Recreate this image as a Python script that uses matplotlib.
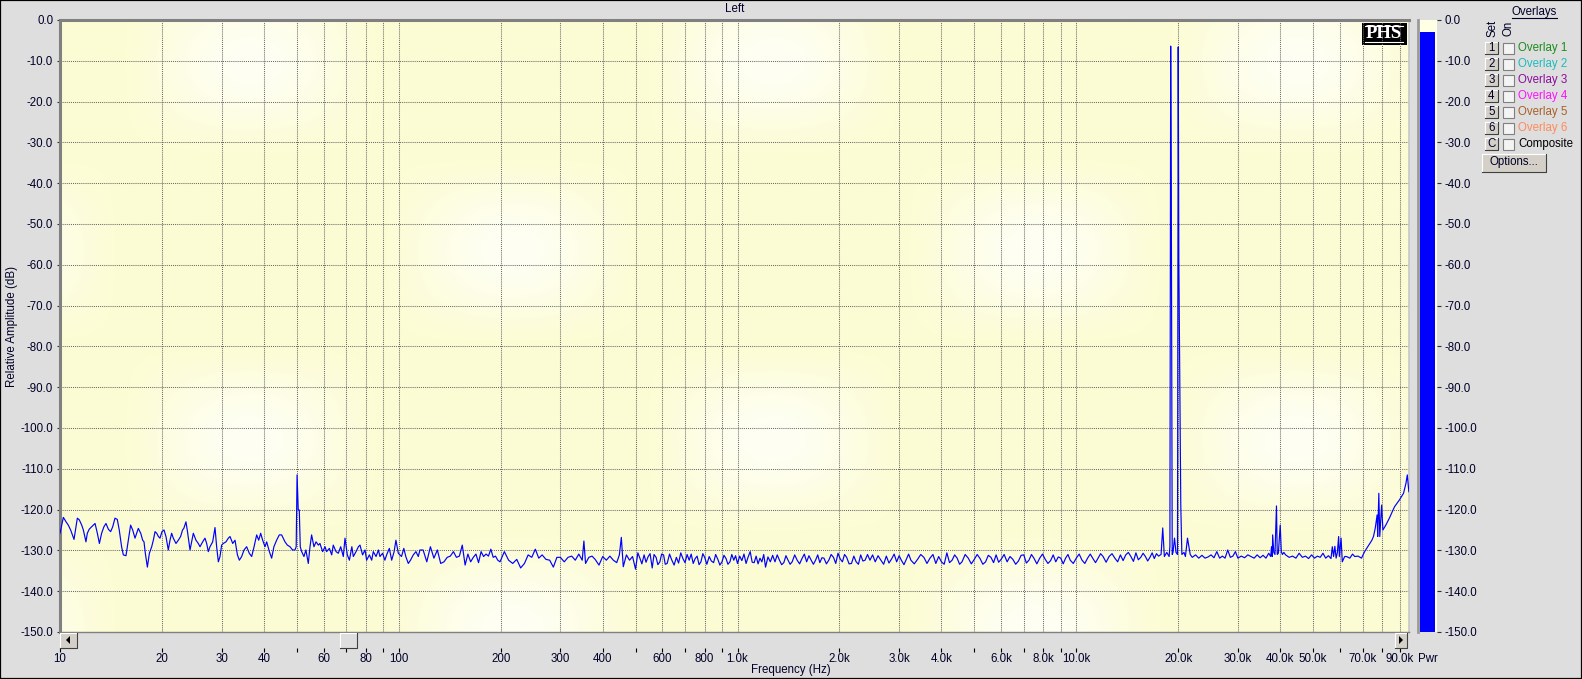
import numpy as np
import matplotlib
matplotlib.use("Agg")
import matplotlib.pyplot as plt
from matplotlib.patches import Rectangle, Polygon
from matplotlib.lines import Line2D
from matplotlib.ticker import FixedLocator, FixedFormatter, NullLocator

# ---------------- data (frequency Hz, level dB) ----------------
seg_10_50 = [(10.0, -125.8), (10.23, -121.9), (10.42, -123.0), (10.58, -123.8), (10.75, -125.0), (11.0, -127.3),
             (11.15, -124.2), (11.25, -122.1), (11.4, -122.5), (11.59, -123.8), (11.72, -125.0), (11.93, -127.9),
             (12.04, -125.8), (12.2, -124.8), (12.4, -124.2), (12.69, -123.4), (12.89, -125.8), (13.07, -128.3),
             (13.27, -125.8), (13.48, -124.2), (13.67, -123.4), (13.89, -124.8), (14.11, -125.4), (14.31, -124.2),
             (14.53, -122.1), (14.76, -122.4), (14.96, -125.0), (15.2, -129.1), (15.38, -131.1), (15.66, -131.3),
             (15.91, -127.5), (16.16, -123.8), (16.39, -125.0), (16.65, -127.0), (16.84, -125.8), (17.03, -124.6),
             (17.31, -125.8), (17.54, -127.5), (17.7, -127.9), (17.86, -130.7), (18.11, -134.1), (18.36, -130.7),
             (18.65, -129.1), (18.86, -127.5), (19.08, -125.4), (19.3, -125.8), (19.52, -126.6), (19.73, -127.0),
             (20.0, -125.4), (20.28, -125.0), (20.55, -126.6), (20.88, -129.9), (21.12, -127.5), (21.36, -125.8),
             (21.6, -127.0), (22.0, -128.3), (22.35, -127.5), (22.7, -126.6), (23.0, -125.0), (23.2, -124.6),
             (23.54, -123.0), (23.75, -125.0), (24.2, -129.9), (24.47, -127.9), (24.75, -125.8), (25.2, -127.5),
             (25.6, -128.3), (25.9, -129.1), (26.37, -127.9), (26.79, -127.0), (27.1, -128.3), (27.4, -130.3),
             (27.72, -129.1), (28.23, -127.9), (28.68, -124.4), (29.0, -129.1), (29.34, -132.8), (29.67, -131.5),
             (30.0, -128.7), (30.35, -128.3), (30.9, -127.9), (31.4, -127.0), (31.76, -126.6), (32.35, -128.3),
             (32.86, -127.5), (33.4, -131.1), (33.84, -132.4), (34.38, -131.5), (34.93, -129.9), (35.56, -129.1),
             (36.2, -130.7), (36.8, -131.5), (37.4, -129.1), (38.07, -126.2), (38.6, -127.5), (39.12, -125.8),
             (39.65, -127.5), (40.29, -129.1), (40.75, -127.9), (41.5, -130.3), (42.15, -131.9), (42.8, -129.1),
             (43.6, -127.5), (44.4, -126.2), (45.11, -126.2), (46.15, -127.9), (46.9, -128.7), (47.74, -129.1),
             (48.6, -129.9), (49.39, -129.9), (49.8, -129.1)]

seg_hum = [(50.1, -111.5), (50.5, -120.1), (50.86, -120.1), (51.2, -129.1)]

seg_51_116 = [(51.68, -130.3), (52.5, -131.5), (53.2, -129.9), (54.07, -133.2), (54.7, -129.1), (55.3, -126.2),
              (56.2, -129.1), (57.0, -127.9), (57.9, -128.7), (58.53, -128.3), (59.6, -130.3), (60.6, -129.1),
              (61.24, -130.3), (62.4, -129.5), (63.4, -131.1), (64.07, -128.7), (65.3, -130.3), (66.3, -130.7),
              (67.4, -129.1), (68.6, -131.5), (69.39, -127.0), (70.5, -131.1), (71.5, -132.4), (72.7, -129.1),
              (73.43, -131.5), (74.8, -130.3), (76.0, -129.1), (76.84, -128.7), (78.2, -131.1), (79.5, -129.9),
              (80.39, -132.4), (81.9, -131.1), (83.2, -132.4), (84.1, -130.3), (85.7, -131.5), (87.1, -129.9),
              (88.0, -131.5), (89.6, -130.7), (91.0, -132.4), (92.08, -131.1), (93.8, -129.5), (95.3, -132.4),
              (96.9, -130.3), (98.1, -127.5), (99.7, -130.7), (101.9, -131.5), (103.5, -129.5), (104.9, -131.5),
              (106.7, -133.2), (108.3, -132.4), (110.4, -131.1), (112.4, -130.3), (114.2, -131.5), (115.5, -129.9)]

seg_118_200 = [(118, -129.9), (121, -132.8), (124, -129.1), (127, -131.9), (130, -129.9), (133, -133.2),
               (136, -132.8), (139, -131.7), (142, -131.4), (145, -130.3), (148, -131.7), (151, -131.4),
               (154, -128.7), (157, -133.6), (160, -130.9), (163, -132.8), (166, -131.7), (169, -130.9),
               (172, -133.0), (175, -130.3), (178, -131.5), (181, -130.9), (184, -131.4), (187, -129.7),
               (190, -131.7), (193, -131.4), (196, -132.4), (199, -132.8)]

seg_200_500 = [(205, -130.3), (211, -132.4), (217, -133.2), (223, -132.2), (229, -134.3), (235, -133.2),
               (241, -131.1), (247, -131.7), (253, -129.7), (259, -131.9), (265, -131.1), (272, -132.2),
               (279, -132.4), (286, -134.1), (293, -131.7), (300, -131.7), (308, -132.8), (316, -131.7),
               (324, -131.4), (332, -132.4), (340, -130.9), (348, -132.4), (352, -127.7), (356, -133.2),
               (364, -131.7), (372, -131.4), (380, -132.2), (390, -133.6), (400, -131.5), (410, -132.4),
               (420, -131.4), (430, -132.4), (440, -133.0), (448, -131.1), (454, -126.8), (460, -134.0),
               (470, -131.1), (480, -132.4), (490, -131.5), (500, -134.6)]

seg_500_2400 = [(508, -130.6), (515, -131.9), (522, -133.3), (530, -131.1), (537, -132.9), (545, -131.5),
                (552, -130.8), (560, -134.3), (567, -131.0), (575, -131.7), (582, -133.5), (590, -132.8),
                (597, -130.9), (605, -131.1), (612, -133.4), (620, -133.2), (630, -130.9), (640, -132.4),
                (650, -133.6), (660, -131.7), (670, -133.1), (680, -130.6), (690, -132.0), (700, -133.0),
                (710, -131.0), (720, -132.4), (730, -130.9), (740, -133.2), (750, -132.0), (760, -131.4),
                (770, -133.5), (780, -132.8), (790, -130.8), (800, -131.7), (812, -133.4), (825, -131.5),
                (837, -132.6), (850, -133.0), (862, -131.0), (875, -132.2), (887, -133.6), (900, -132.8),
                (912, -131.2), (925, -132.0), (937, -133.4), (950, -132.8), (962, -131.0), (975, -132.4),
                (987, -131.3), (1000, -133.2), (1015, -131.4), (1030, -132.5), (1045, -130.9), (1060, -133.2),
                (1075, -131.6), (1090, -130.3), (1105, -132.9), (1120, -133.0), (1135, -131.4), (1150, -133.3),
                (1165, -131.9), (1180, -132.8), (1195, -131.0), (1210, -134.1), (1230, -131.6), (1250, -132.8),
                (1270, -131.2), (1290, -132.8), (1310, -131.1), (1330, -132.4), (1350, -133.5), (1370, -133.0),
                (1390, -131.3), (1410, -132.4), (1430, -133.4), (1450, -132.8), (1475, -131.1), (1500, -132.4),
                (1525, -133.3), (1550, -132.0), (1575, -130.9), (1600, -132.8), (1625, -131.3), (1650, -132.4),
                (1675, -133.4), (1700, -132.4), (1725, -131.1), (1750, -133.0), (1775, -131.8), (1800, -131.9),
                (1830, -133.3), (1860, -132.4), (1890, -131.0), (1920, -131.7), (1950, -133.2), (1980, -130.7),
                (2010, -132.1), (2040, -132.8), (2070, -131.0), (2100, -131.7), (2135, -133.3), (2170, -133.2),
                (2205, -131.4), (2240, -132.8), (2275, -133.4), (2310, -131.1), (2345, -132.6), (2380, -132.4)]

seg_2400_17800 = [(2420, -131.0), (2460, -132.4), (2505, -131.1), (2550, -132.8), (2600, -131.3), (2650, -132.4),
                  (2700, -133.4), (2750, -131.4), (2800, -133.1), (2850, -132.1), (2900, -130.9), (2950, -132.8),
                  (3000, -131.3), (3050, -132.5), (3100, -133.5), (3150, -132.2), (3200, -130.9), (3250, -132.4),
                  (3325, -133.3), (3400, -132.2), (3475, -131.0), (3550, -131.7), (3625, -133.2), (3700, -131.9),
                  (3775, -131.0), (3850, -133.2), (3925, -131.5), (4000, -132.8), (4075, -133.4), (4150, -130.6),
                  (4225, -133.0), (4300, -132.4), (4375, -131.1), (4450, -131.9), (4525, -133.4), (4600, -132.8),
                  (4700, -131.0), (4800, -131.9), (4900, -133.3), (5000, -132.2), (5100, -131.0), (5200, -132.0),
                  (5300, -133.4), (5400, -132.8), (5500, -131.2), (5600, -131.7), (5700, -133.0), (5800, -131.1),
                  (5900, -132.9), (6000, -132.2), (6125, -131.0), (6250, -132.8), (6375, -131.5), (6500, -132.2),
                  (6625, -133.4), (6750, -132.6), (6875, -131.2), (7000, -131.1), (7125, -133.1), (7250, -132.4),
                  (7375, -131.0), (7500, -131.9), (7650, -133.3), (7800, -131.9), (7950, -130.9), (8100, -132.2),
                  (8250, -133.2), (8400, -132.5), (8550, -131.1), (8700, -132.8), (8850, -131.6), (9000, -131.9),
                  (9150, -133.3), (9300, -131.9), (9450, -131.0), (9600, -132.4), (9800, -133.2), (10000, -131.9),
                  (10200, -130.9), (10400, -132.4), (10600, -133.2), (10800, -131.9), (11000, -130.9), (11200, -132.0),
                  (11400, -133.0), (11600, -131.9), (11800, -130.8), (12000, -131.5), (12250, -132.9), (12500, -131.5),
                  (12750, -130.8), (13000, -131.9), (13250, -132.8), (13500, -131.1), (13750, -132.5), (14000, -131.1),
                  (14250, -130.5), (14500, -131.5), (14750, -132.7), (15000, -130.6), (15250, -132.3), (15500, -131.7),
                  (15750, -130.7), (16000, -131.5), (16250, -132.6), (16500, -131.7), (16750, -130.6), (17000, -132.0),
                  (17250, -130.8), (17500, -131.4), (17800, -131.0)]

seg_tones = [(18000, -124.5), (18200, -131.5), (18500, -130.5), (18800, -131.5), (18900, -129.0),
             (19000, -6.4), (19080, -42.5), (19200, -131.0), (19300, -130.5), (19500, -127.0), (19700, -130.5),
             (19900, -131.0), (20000, -6.6), (20080, -58.3), (20350, -118.9), (20500, -131.0), (20800, -130.5),
             (21000, -131.5), (21300, -127.0), (21700, -131.0)]

seg_22k_37k = [(22000, -131.7), (22500, -131.1), (23000, -131.9), (23500, -131.2), (24000, -131.9), (24500, -131.6),
               (25000, -131.1), (25500, -131.8), (26000, -130.3), (26500, -131.9), (27000, -131.4), (27500, -131.9),
               (28000, -129.9), (28500, -131.7), (29000, -131.4), (29500, -130.3), (30000, -131.9), (30700, -131.4),
               (31400, -131.8), (32100, -131.1), (32800, -131.5), (33500, -131.9), (34200, -131.1), (34900, -131.8),
               (35600, -131.2), (36300, -131.9), (37000, -130.7), (37500, -131.5)]

seg_40k = [(37700, -129.1), (37900, -131.5), (38000, -126.2), (38300, -130.5), (38600, -131.0), (39000, -119.1),
           (39200, -131.0), (39500, -130.7), (40000, -123.8), (40300, -130.3), (40600, -131.0), (41000, -130.5)]

seg_41k_57k = [(41500, -131.1), (42500, -131.7), (43500, -131.4), (44500, -131.9), (45500, -130.7), (46500, -131.7),
               (47500, -131.4), (48500, -132.0), (49500, -131.1), (50500, -131.9), (51500, -131.4), (52500, -131.7),
               (53500, -130.7), (54500, -131.9), (55500, -131.3), (56500, -132.0)]

seg_top = [(57000, -129.1), (57500, -131.5), (58000, -129.0), (58500, -131.9), (59000, -130.5), (59500, -126.6),
           (59800, -131.5), (60500, -127.0), (61000, -132.8), (62000, -131.5), (62800, -131.5), (64200, -131.9),
           (65400, -130.9), (66400, -131.5), (67900, -131.4), (69500, -131.9), (71000, -130.3), (72800, -128.9),
           (74600, -127.5), (75400, -126.6), (76300, -124.6), (77300, -121.3), (77600, -126.6), (78200, -116.0),
           (78700, -126.6), (79700, -118.9), (80400, -125.0), (82000, -123.8), (84000, -122.1), (87000, -119.3),
           (90000, -117.6), (92500, -116.0), (94000, -113.6), (94900, -111.5), (95900, -115.6)]

x_tick_values = [10, 20, 30, 40, 50, 60, 70, 80, 90,
                 100, 200, 300, 400, 500, 600, 700, 800, 900,
                 1000, 2000, 3000, 4000, 5000, 6000, 7000, 8000, 9000,
                 10000, 20000, 30000, 40000, 50000, 60000, 70000, 80000, 90000]
x_tick_labels = ["10", "20", "30", "40", "", "60", "", "80", "",
                 "100", "200", "300", "400", "", "600", "", "800", "",
                 "1.0k", "2.0k", "3.0k", "4.0k", "", "6.0k", "", "8.0k", "",
                 "10.0k", "20.0k", "30.0k", "40.0k", "50.0k", "", "70.0k", "", "90.0k"]
y_tick_values = [0, -10, -20, -30, -40, -50, -60, -70, -80, -90, -100, -110, -120, -130, -140, -150]
y_tick_labels = ["0.0", "-10.0", "-20.0", "-30.0", "-40.0", "-50.0", "-60.0", "-70.0", "-80.0", "-90.0",
                 "-100.0", "-110.0", "-120.0", "-130.0", "-140.0", "-150.0"]
meter_level = -2.9

overlay_sets = ["1", "2", "3", "4", "5", "6", "C"]
overlay_names = ["Overlay 1", "Overlay 2", "Overlay 3", "Overlay 4", "Overlay 5", "Overlay 6", "Composite"]
overlay_colors = ["#1c8c1c", "#1cbcbc", "#8a0c9c", "#ff10ff", "#a8602a", "#ff8a5c", "#000000"]

# ---------------- figure ----------------
W, H = 1582, 679
DPI = 100
FONT = "Liberation Sans"
FS = 8.3
TXT = "#000028"
BG = "#dedede"

plt.rcParams['font.family'] = [FONT, 'DejaVu Sans']

fig = plt.figure(figsize=(W / DPI, H / DPI), dpi=DPI, facecolor=BG)


def fx(x):
    return x / W


def fy(y):
    return 1 - y / H


def frect(x0, y0, x1, y1, **kw):
    r = Rectangle((fx(x0), fy(y1)), fx(x1) - fx(x0), fy(y0) - fy(y1), transform=fig.transFigure, **kw)
    fig.add_artist(r)
    return r


def fline(xs, ys, **kw):
    fig.add_artist(Line2D([fx(v) for v in xs], [fy(v) for v in ys], transform=fig.transFigure, **kw))


def button3d(x0, y0, x1, y1, face="#d4d0c8"):
    frect(x0, y0, x1, y1, facecolor=face, edgecolor="none")
    fline([x0, x0, x1], [y1, y0, y0], color="white", lw=0.8)
    fline([x0, x1, x1], [y1, y1, y0], color="#404040", lw=0.8)


ax_left, ax_right, ax_top, ax_bot = 60, 1409, 20, 632
pos = [fx(ax_left), fy(ax_bot), fx(ax_right) - fx(ax_left), fy(ax_top) - fy(ax_bot)]

# background pattern axes (soft yellow/white plaid)
bg_ax = fig.add_axes(pos, zorder=0)
gx = np.linspace(ax_left, ax_right, 400)
gy = np.linspace(ax_top, ax_bot, 200)
GX, GY = np.meshgrid(gx, gy)
u = np.cos(np.pi * (GX - 250) / 262) * np.cos(np.pi * (GY - 60) / 190)
t = np.clip(u, 0, 1) ** 1.3
c_y = np.array([252, 252, 212]) / 255
c_w = np.array([255, 255, 244]) / 255
img = c_y[None, None, :] + t[:, :, None] * (c_w - c_y)[None, None, :]
bg_ax.imshow(img, extent=[0, 1, 0, 1], aspect='auto', interpolation='bilinear')
bg_ax.set_xlim(0, 1)
bg_ax.set_ylim(0, 1)
bg_ax.axis('off')

ax = fig.add_axes(pos, zorder=1)
ax.patch.set_alpha(0)

all_pts = (seg_10_50 + seg_hum + seg_51_116 + seg_118_200 + seg_200_500 + seg_500_2400 + seg_2400_17800
           + seg_tones + seg_22k_37k + seg_40k + seg_41k_57k + seg_top)
freqs = [p[0] for p in all_pts]
levels = [p[1] for p in all_pts]
ax.plot(freqs, levels, color="#0000ff", lw=0.85, zorder=3)

ax.set_xscale('log')
ax.set_xlim(10, 96000)
ax.set_ylim(-150, 0)
ax.xaxis.set_major_locator(FixedLocator(x_tick_values))
ax.xaxis.set_major_formatter(FixedFormatter(x_tick_labels))
ax.xaxis.set_minor_locator(NullLocator())
ax.yaxis.set_major_locator(FixedLocator(y_tick_values))
ax.yaxis.set_major_formatter(FixedFormatter(y_tick_labels))
ax.yaxis.set_minor_locator(NullLocator())
ax.set_axisbelow(True)
ax.grid(True, which='major', color="#6a6a6a", lw=0.75, linestyle=(0, (1, 1)))

ax.spines['bottom'].set_position(('outward', 16 * 0.72))
ax.spines['bottom'].set_visible(False)
ax.spines['left'].set_color("#808080")
ax.spines['left'].set_linewidth(2.2)
ax.spines['top'].set_color("#808080")
ax.spines['top'].set_linewidth(2.2)
ax.spines['right'].set_color("#c8c8c8")
ax.spines['right'].set_linewidth(1.2)
ax.axhline(-150, color="#808080", lw=1.0, clip_on=False, zorder=4)

ax.tick_params(axis='x', which='major', direction='out', length=2.9, width=0.8, color='black',
               pad=0.6, labelsize=FS, labelcolor=TXT)
ax.tick_params(axis='y', which='major', direction='out', length=2.2, width=0.8, color='#303030',
               pad=2.7, labelsize=FS, labelcolor=TXT)

# ---------------- meter ----------------
mx0, mx1 = 1418, 1437
ax_m = fig.add_axes([fx(mx0), fy(ax_bot), fx(mx1) - fx(mx0), fy(ax_top) - fy(ax_bot)], zorder=1)
ax_m.set_facecolor("#ffffe6")
ax_m.set_xlim(0, 1)
ax_m.set_ylim(-150, 0)
ax_m.bar([0.5], [meter_level - (-150)], bottom=-150, width=0.84, color="#0000ff", zorder=2)
ax_m.yaxis.tick_right()
ax_m.yaxis.set_major_locator(FixedLocator(y_tick_values))
ax_m.yaxis.set_major_formatter(FixedFormatter(y_tick_labels))
ax_m.set_xticks([])
ax_m.tick_params(axis='y', direction='out', length=3.0, width=0.8, color='#303030', pad=2.6,
                 labelsize=FS, labelcolor=TXT)
for s in ['top', 'bottom', 'right']:
    ax_m.spines[s].set_visible(False)
ax_m.spines['left'].set_color("#9a9a9a")
ax_m.spines['left'].set_linewidth(2.0)

# ---------------- texts ----------------
fig.text(fx(734.5), fy(9), "Left", ha='center', va='center', fontsize=FS, color=TXT)
fig.text(fx(791), fy(670.5), "Frequency (Hz)", ha='center', va='center', fontsize=FS, color=TXT)
fig.text(fx(12), fy(326), "Relative Amplitude (dB)", ha='center', va='center', rotation=90,
         fontsize=FS, color=TXT)
fig.text(fx(1428), fy(659), "Pwr", ha='center', va='center', fontsize=FS, color=TXT)

# ---------------- scrollbar ----------------
button3d(60, 632.5, 77, 648)
fig.add_artist(Polygon([(fx(66), fy(640)), (fx(70), fy(636)), (fx(70), fy(644))], closed=True,
                       transform=fig.transFigure, facecolor='black', edgecolor='none'))
button3d(1395, 632.5, 1407, 648)
fig.add_artist(Polygon([(fx(1403), fy(640)), (fx(1399), fy(636)), (fx(1399), fy(644))], closed=True,
                       transform=fig.transFigure, facecolor='black', edgecolor='none'))
button3d(340, 632.5, 357, 648, face=BG)

# ---------------- PHS logo ----------------
frect(1362, 23, 1407, 44.5, facecolor='black', edgecolor='none')
fline([1365, 1403], [25.5, 25.5], color='white', lw=0.8)
fline([1365, 1403], [41.5, 41.5], color='white', lw=0.8)
fig.text(fx(1384), fy(33.6), "PHS", ha='center', va='center', fontsize=13.5, fontweight='bold',
         family='Liberation Serif', color='white')

# ---------------- overlays panel ----------------
fig.text(fx(1534.5), fy(12.5), "Overlays", ha='center', va='center', fontsize=FS, color=TXT)
fline([1512, 1557], [18, 18], color=TXT, lw=0.8)
fig.text(fx(1493), fy(28.5), "Set", ha='center', va='center', rotation=90, fontsize=FS, color=TXT)
fig.text(fx(1508), fy(28.5), "On", ha='center', va='center', rotation=90, fontsize=FS, color=TXT)
row_y = [48.3, 64.3, 80.3, 96.3, 112.3, 128.3, 144.3]
for yy, sname, oname, col in zip(row_y, overlay_sets, overlay_names, overlay_colors):
    button3d(1485, yy - 6, 1497.5, yy + 6)
    fig.text(fx(1491.3), fy(yy), sname, ha='center', va='center', fontsize=FS, color=TXT)
    frect(1502.5, yy - 5.5, 1513.5, yy + 5.5, facecolor="#f4f4f4", edgecolor="#808080", lw=0.8)
    fig.text(fx(1518), fy(yy), oname, ha='left', va='center', fontsize=FS, color=col)
button3d(1482, 153.5, 1546, 171.5)
fig.text(fx(1514), fy(162.5), "Options...", ha='center', va='center', fontsize=FS, color=TXT)

# outer border
fig.add_artist(Rectangle((0, 0), 1, 1, transform=fig.transFigure, fill=False, edgecolor='black', lw=1.6))

fig.savefig("out.png", dpi=DPI, facecolor=BG)
